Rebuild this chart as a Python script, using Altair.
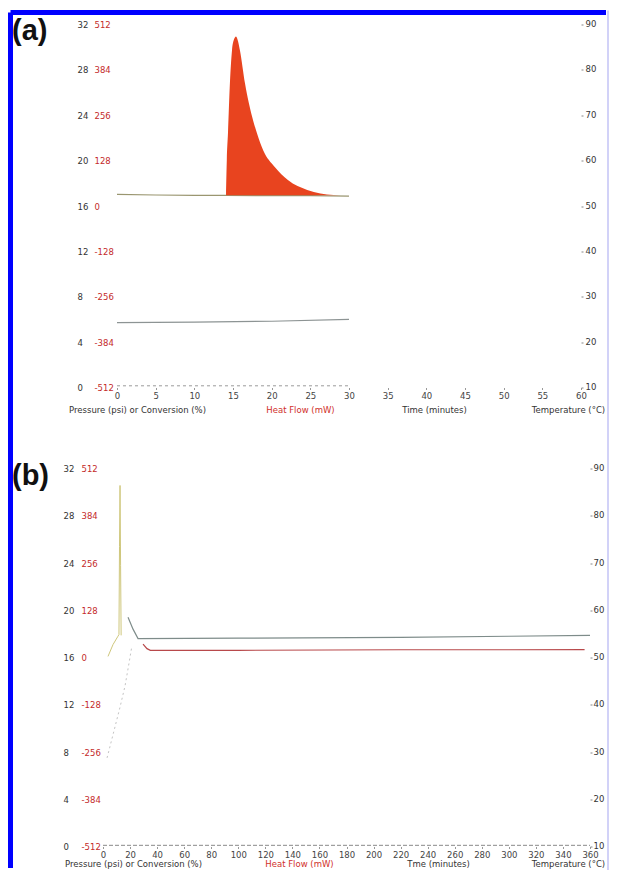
import altair as alt
import pandas as pd

FONT = "DejaVu Sans"
FS = 8.5

# ---------------- tick labels ----------------
pressure_ticks = [0, 4, 8, 12, 16, 20, 24, 28, 32]
heatflow_ticks = [-512, -384, -256, -128, 0, 128, 256, 384, 512]
temperature_ticks = [10, 20, 30, 40, 50, 60, 70, 80, 90]
time_ticks_a = [0, 5, 10, 15, 20, 25, 30, 35, 40, 45, 50, 55, 60]
time_ticks_b = [0, 20, 40, 60, 80, 100, 120, 140, 160, 180, 200, 220, 240,
                260, 280, 300, 320, 340, 360]

# ---------------- panel (a) data ----------------
a_base_time = [0, 5, 10, 14.1, 20, 25, 30]
a_base_hf = [33, 31, 30, 30, 29, 29, 28]
a_peak_time = [14.1, 14.2, 14.35, 14.6, 14.87, 15.1, 15.39, 15.65, 15.9, 16.55,
               17.5, 18.1, 18.9, 20.4, 22.1, 24.6, 28.0, 29.8]
a_peak_hf = [30, 130, 205, 346, 439, 468, 478, 465, 439, 346,
             250, 205, 157, 110, 73, 45, 31, 30]
a_peak_base_hf = 30
a_temp_time = [0, 10, 20, 30]
a_temp = [24.3, 24.4, 24.6, 25.0]
a_press_time = [0, 30]
a_press = [0.15, 0.15]

# ---------------- panel (b) data ----------------
b_spike_time = [3.7, 7.4, 10.8, 11.8, 12.2, 12.6, 13.0, 13.4]
b_spike_hf = [3, 35, 56, 62, 300, 466, 250, 60]
b_temp_time = [18.5, 22.2, 25.9, 100, 220, 300, 360]
b_temp = [58.5, 56.0, 54.0, 54.1, 54.25, 54.5, 54.7]
b_hf_time = [29.6, 32.5, 35, 100, 220, 300, 356]
b_hf = [36, 24, 19.5, 19.5, 21, 21, 21.4]
b_rise_time = [3, 12.6, 16.3, 19.2, 21.4]
b_rise = [7.5, 11.8, 13.6, 15.5, 17.0]
b_press_time = [0, 360]
b_press = [0.1, 0.1]

# axis alignment: 16 psi <-> 0 mW, 4 psi <-> 128 mW, 10 C <-> 4 psi
HF_EXPR = "16 + datum.v / 32"
T_EXPR = "(datum.v - 10) * 0.4"
hf_vals = [16 + v / 32 for v in heatflow_ticks]
t_vals = [(v - 10) * 0.4 for v in temperature_ticks]


def frame(t, v):
    return pd.DataFrame({"t": t, "v": v})


def xenc(dom, axis):
    return alt.X("t:Q", scale=alt.Scale(domain=dom, nice=False, zero=False), axis=axis)


def yenc(axis):
    return alt.Y("y:Q", scale=alt.Scale(domain=[0, 32], nice=False, zero=False), axis=axis)


def common_title(**kw):
    return dict(titleAngle=0, titleAlign="center", titleBaseline="middle",
                titleFont=FONT, titleFontSize=FS, titleFontWeight="normal", **kw)


def axes(p):
    pax = alt.Axis(orient="left", offset=p["p_off"], values=pressure_ticks, ticks=False,
                   domain=False, grid=False, labelAlign="left", labelBaseline="middle",
                   labelPadding=0, labelFlush=False, labelFont=FONT, labelFontSize=FS,
                   labelColor="#333333", title="Pressure (psi) or Conversion (%)",
                   **common_title(titleX=p["p_tx"], titleY=p["tY"], titleColor="#333333"))
    hax = alt.Axis(orient="left", offset=p["h_off"], values=hf_vals, ticks=False,
                   domain=False, grid=False, labelAlign="left", labelBaseline="middle",
                   labelPadding=0, labelFlush=False, labelFont=FONT, labelFontSize=FS,
                   labelColor="#c42a2a",
                   labelExpr="'' + round((datum.value - 16) * 32)",
                   title="Heat Flow (mW)",
                   **common_title(titleX=p["h_tx"], titleY=p["tY"], titleColor="#d0302a"))
    tax = alt.Axis(orient="right", offset=0, values=t_vals, ticks=True, tickSize=2,
                   tickColor="#888888", domain=False, grid=False, labelAlign="left",
                   labelBaseline="middle", labelPadding=p["r_pad"], labelFlush=False,
                   labelOffset=-1,
                   labelFont=FONT, labelFontSize=FS, labelColor="#333333",
                   labelExpr="'' + round(datum.value * 2.5 + 10)",
                   title="Temperature (\u00b0C)",
                   **common_title(titleX=p["r_tx"], titleY=p["tY"], titleColor="#333333"))
    xax = alt.Axis(values=p["xticks"], grid=False, domain=False, tickSize=2,
                   tickColor="#999999", labelPadding=2, labelFont=FONT, labelFontSize=FS,
                   labelColor="#444444", labelFlush=False, labelOverlap=False,
                   title=p["xtitle"],
                   **common_title(titleX=p["x_tx"], titleY=p["x_tY"], titleColor="#333333"))
    return pax, hax, tax, xax


A = dict(w=478, h=363, xdom=[-1.81, 60], p_off=26, h_off=9, r_pad=2, p_tx=60, h_tx=206,
         r_tx=-13, tY=385, x_tx=331, x_tY=22, xticks=time_ticks_a, xtitle="Time  (minutes)")
B = dict(w=487, h=378, xdom=[0, 360], p_off=40, h_off=22, r_pad=1, p_tx=70, h_tx=218,
         r_tx=-22, tY=395, x_tx=335, x_tY=17, xticks=time_ticks_b, xtitle="Tme  (minutes)")

dummy = pd.DataFrame({"k": [0]})

# ---------------- panel (a) ----------------
pax, hax, tax, xax = axes(A)
a_press_l = alt.Chart(frame(a_press_time, a_press)).transform_calculate(y="datum.v").mark_line(
    color="#9a9a9a", strokeWidth=1, strokeDash=[3, 3]).encode(x=xenc(A["xdom"], xax), y=yenc(pax))
a_temp_l = alt.Chart(frame(a_temp_time, a_temp)).transform_calculate(y=T_EXPR).mark_line(
    color="#8d9494", strokeWidth=1.2).encode(x=xenc(A["xdom"], xax), y=yenc(tax))
a_base_l = alt.Chart(frame(a_base_time, a_base_hf)).transform_calculate(y=HF_EXPR).mark_line(
    color="#9a9670", strokeWidth=1.2).encode(x=xenc(A["xdom"], xax), y=yenc(hax))
a_peak = alt.Chart(frame(a_peak_time, a_peak_hf)).transform_calculate(
    y=HF_EXPR, y2="16 + %f / 32" % a_peak_base_hf).mark_area(
    color="#e8441f", orient="vertical", interpolate="monotone").encode(
    x=xenc(A["xdom"], xax), y=yenc(None), y2="y2:Q")
a_label = alt.Chart(dummy).mark_text(text="(a)", font="Liberation Sans", fontSize=29,
                                     fontWeight="bold", align="left", baseline="alphabetic",
                                     color="#111111").encode(x=alt.value(-91), y=alt.value(15))
# blue frame of the figure (Vega bounds grow by half the stroke width on every side)
border_left = alt.Chart(dummy).mark_rule(color="#0000ff", strokeWidth=5).encode(
    x=alt.value(-92.5), y=alt.value(-12), y2=alt.value(843.5))
border_top = alt.Chart(dummy).mark_rule(color="#0000ff", strokeWidth=5).encode(
    x=alt.value(-92.5), x2=alt.value(503), y=alt.value(-12))
border_right = alt.Chart(dummy).mark_rule(color="#a5a5f0", strokeWidth=1).encode(
    x=alt.value(505), y=alt.value(-14), y2=alt.value(845.5))

panel_a = alt.layer(a_press_l, a_temp_l, a_base_l, a_peak, a_label,
                    border_left, border_top, border_right).resolve_axis(y="independent").properties(
    width=A["w"], height=A["h"])

# ---------------- panel (b) ----------------
pax, hax, tax, xax = axes(B)
b_press_l = alt.Chart(frame(b_press_time, b_press)).transform_calculate(y="datum.v").mark_line(
    color="#8a8a8a", strokeWidth=1, strokeDash=[4, 2]).encode(x=xenc(B["xdom"], xax), y=yenc(pax))
b_rise_l = alt.Chart(frame(b_rise_time, b_rise)).transform_calculate(y="datum.v").mark_line(
    color="#c4c4c4", strokeWidth=1, strokeDash=[2, 3]).encode(x=xenc(B["xdom"], xax), y=yenc(None))
b_temp_l = alt.Chart(frame(b_temp_time, b_temp)).transform_calculate(y=T_EXPR).mark_line(
    color="#7e8c8a", strokeWidth=1.2).encode(x=xenc(B["xdom"], xax), y=yenc(tax))
b_hf_l = alt.Chart(frame(b_hf_time, b_hf)).transform_calculate(y=HF_EXPR).mark_line(
    color="#b8494b", strokeWidth=1.2).encode(x=xenc(B["xdom"], xax), y=yenc(hax))
b_spike_l = alt.Chart(frame(b_spike_time, b_spike_hf)).transform_calculate(y=HF_EXPR).mark_line(
    color="#cfc77c", strokeWidth=1).encode(x=xenc(B["xdom"], xax), y=yenc(None))
b_label = alt.Chart(dummy).mark_text(text="(b)", font="Liberation Sans", fontSize=29,
                                     fontWeight="bold", align="left", baseline="alphabetic",
                                     color="#111111").encode(x=alt.value(-91), y=alt.value(16))

panel_b = alt.layer(b_press_l, b_rise_l, b_temp_l, b_hf_l, b_spike_l, b_label).resolve_axis(
    y="independent").properties(width=B["w"], height=B["h"])

chart = alt.vconcat(panel_a, panel_b, spacing=81, bounds="flush").properties(
    padding={"left": 0, "top": 1.5, "right": 0, "bottom": 0},
    background="white",
).configure_view(strokeWidth=0)

chart.save("out.html", embed_options={"renderer": "svg", "actions": False})
